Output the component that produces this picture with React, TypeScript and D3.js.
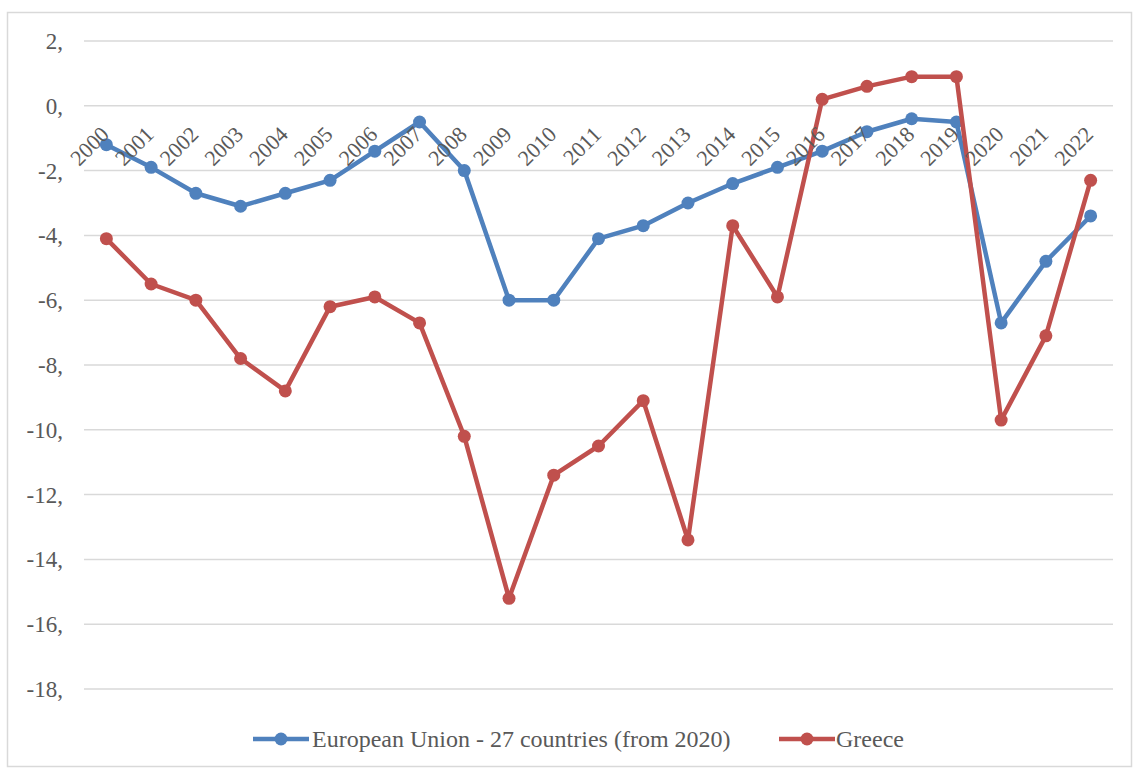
import React from "react";
import * as d3 from "d3";

const years = ["2000","2001","2002","2003","2004","2005","2006","2007","2008","2009","2010","2011","2012","2013","2014","2015","2016","2017","2018","2019","2020","2021","2022"];
const euValues = [-1.2,-1.9,-2.7,-3.1,-2.7,-2.3,-1.4,-0.5,-2.0,-6.0,-6.0,-4.1,-3.7,-3.0,-2.4,-1.9,-1.4,-0.8,-0.4,-0.5,-6.7,-4.8,-3.4];
const greeceValues = [-4.1,-5.5,-6.0,-7.8,-8.8,-6.2,-5.9,-6.7,-10.2,-15.2,-11.4,-10.5,-9.1,-13.4,-3.7,-5.9,0.2,0.6,0.9,0.9,-9.7,-7.1,-2.3];
const yTicks = [2,0,-2,-4,-6,-8,-10,-12,-14,-16,-18];
const seriesNames = ["European Union - 27 countries (from 2020)", "Greece"];
const colors = ["#4f81bd", "#c0504d"];

const W = 1134, H = 769;
const plotLeft = 84, plotRight = 1113;
const FONT = "'Liberation Serif', 'Times New Roman', serif";
const TXT = "#595959";

export default function App() {
  const x = d3.scaleBand<string>().domain(years).range([plotLeft, plotRight]);
  const cx = (d: string) => (x(d) as number) + x.bandwidth() / 2;
  const y = d3.scaleLinear().domain([-18, 2]).range([689, 41]);
  const line = d3.line<number>().x((_, i) => cx(years[i])).y((v) => y(v));
  const series = [euValues, greeceValues];
  const legendItems = [
    { lx: 253, tx: 312 },
    { lx: 779, tx: 836 },
  ];
  return (
    <svg width={W} height={H} style={{ position: "absolute", left: 0, top: 0, background: "#fff" }} fontFamily={FONT}>
      <rect x={7.5} y={12.5} width={1124} height={754} fill="#fff" stroke="#d9d9d9" strokeWidth={1.5} />
      {yTicks.map((t) => (
        <g key={t}>
          <line x1={plotLeft} x2={plotRight} y1={y(t)} y2={y(t)} stroke="#d9d9d9" strokeWidth={1.5} />
          <text x={63} y={y(t)} dy="0.35em" textAnchor="end" fontSize={23} fill={TXT}>{`${t},`}</text>
        </g>
      ))}
      {series.map((vals, si) => (
        <g key={si}>
          <path d={line(vals) || ""} fill="none" stroke={colors[si]} strokeWidth={4.5} strokeLinejoin="round" />
          {vals.map((v, i) => (
            <circle key={i} cx={cx(years[i])} cy={y(v)} r={6.5} fill={colors[si]} />
          ))}
        </g>
      ))}
      {years.map((yr) => (
        <text key={yr} transform={`translate(${cx(yr) + 4},${y(0) + 30}) rotate(-45)`} textAnchor="end" fontSize={22} fill={TXT}>{yr}</text>
      ))}
      {legendItems.map((li, i) => (
        <g key={i}>
          <line x1={li.lx} x2={li.lx + 56} y1={739} y2={739} stroke={colors[i]} strokeWidth={4.5} />
          <circle cx={li.lx + 28} cy={739} r={6.5} fill={colors[i]} />
          <text x={li.tx} y={739} dy="0.35em" fontSize={24} fill={TXT}>{seriesNames[i]}</text>
        </g>
      ))}
    </svg>
  );
}
